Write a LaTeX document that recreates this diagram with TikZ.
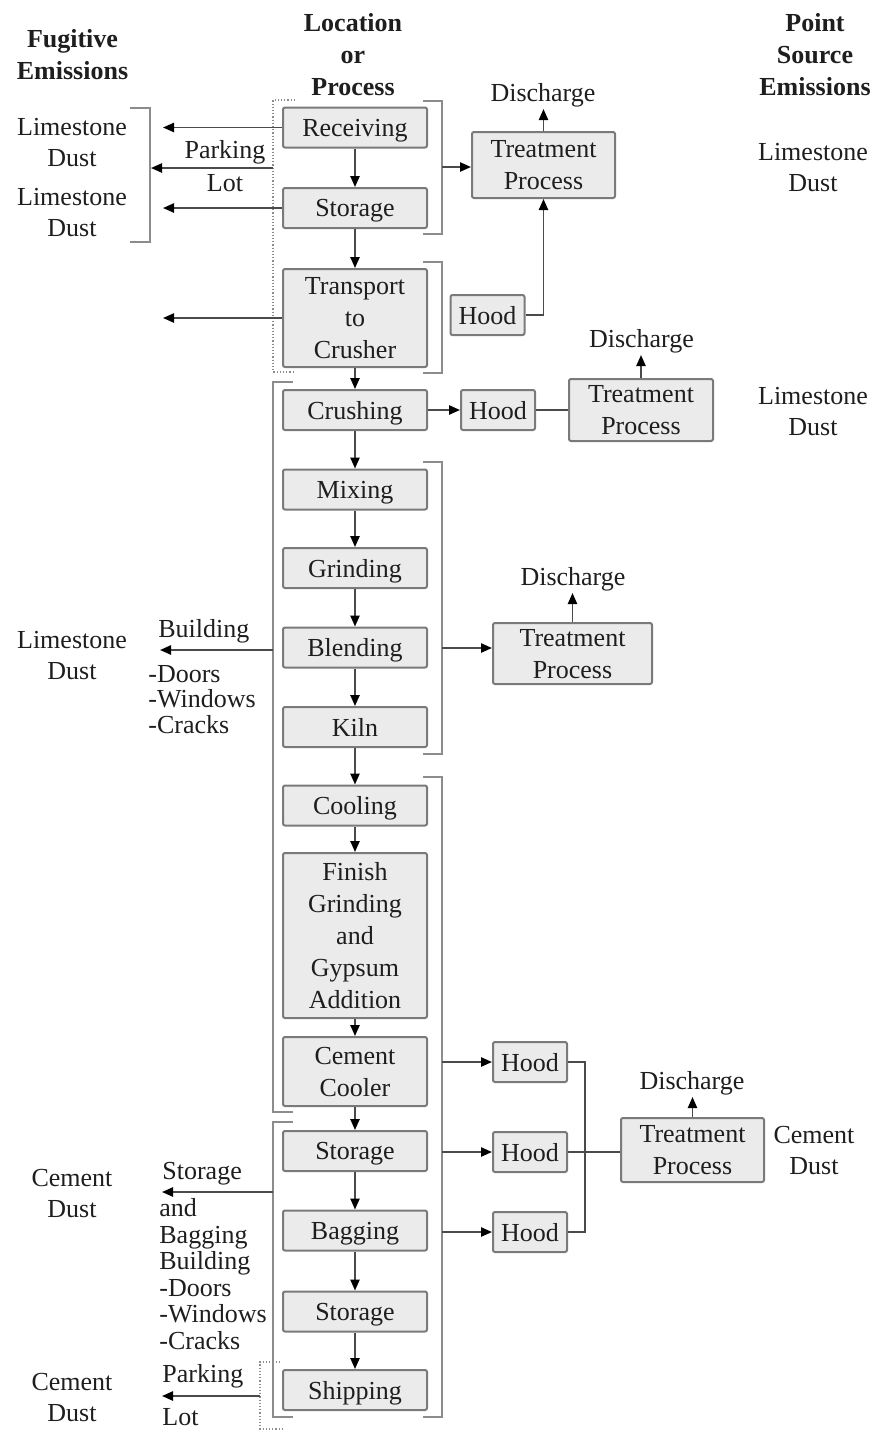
\documentclass[tikz,border=0pt]{standalone}
\usepackage{fontspec}
\setmainfont{Liberation Serif}
\usetikzlibrary{arrows.meta}
\definecolor{boxfill}{HTML}{EBEBEB}
\definecolor{boxline}{HTML}{7A7A7A}
\definecolor{wirecol}{HTML}{4A4A4A}
\definecolor{brk}{HTML}{8C8C8C}
\definecolor{ink}{HTML}{1E1E1E}

\begin{document}
\begin{tikzpicture}[x=0.5pt,y=-0.5pt,
  every node/.style={text=ink, font=\fontsize{13}{15.5}\selectfont},
  box/.style={draw=boxline, fill=boxfill, line width=1pt, rounded corners=1pt,
    inner sep=0pt, align=center, minimum height=20pt, text depth=0pt,
    font=\fontsize{13}{16}\selectfont},
  stepbox/.style={box, minimum width=72pt},
  hoodbox/.style={box, minimum width=37pt},
  lbl/.style={inner sep=0pt, align=center},
  head/.style={inner sep=0pt, align=center, font=\bfseries\fontsize{13}{16}\selectfont},
  arr/.style={draw=wirecol, line width=0.9pt, -{Triangle[length=5.5pt,width=4.6pt,color=black]}},
  wire/.style={draw=wirecol, line width=0.9pt},
  bracket/.style={draw=brk, line width=1.3pt},
  dotbracket/.style={draw=brk, line width=0.6pt, densely dotted},
]
\useasboundingbox (0,0) rectangle (876,1431);

% ---- column headings
\node[head] (hfug) at (72.5,54.5) {Fugitive\\Emissions};
\node[head] (hloc) at (353,55) {Location\\or\\Process};
\node[head] (hpnt) at (815,55) {Point\\Source\\Emissions};

% ---- process chain
\node[stepbox] (recv) at (355,127.5) {Receiving};
\node[stepbox] (st1) at (355,208) {Storage};
\node[stepbox, minimum height=49pt] (trans) at (355,318) {Transport\\to\\Crusher};
\node[stepbox] (crush) at (355,410) {Crushing};
\node[stepbox] (mix) at (355,489.5) {Mixing};
\node[stepbox] (grind) at (355,568) {Grinding};
\node[stepbox] (blend) at (355,647.5) {Blending};
\node[stepbox] (kiln) at (355,727) {Kiln};
\node[stepbox] (cool) at (355,805.5) {Cooling};
\node[stepbox, minimum height=82.5pt] (finish) at (355,935.5) {Finish\\Grinding\\and\\Gypsum\\Addition};
\node[stepbox, minimum height=34.5pt] (ccool) at (355,1071.5) {Cement\\Cooler};
\node[stepbox] (st2) at (355,1151) {Storage};
\node[stepbox] (bag) at (355,1230.5) {Bagging};
\node[stepbox] (st3) at (355,1311.5) {Storage};
\node[stepbox] (ship) at (355,1390) {Shipping};

\foreach \a/\b in {recv/st1, st1/trans, trans/crush, crush/mix, mix/grind,
  grind/blend, blend/kiln, kiln/cool, cool/finish, finish/ccool, ccool/st2,
  st2/bag, bag/st3, st3/ship}
  \draw[arr] (\a) -- (\b);

% ---- collection hoods and treatment
\node[box, minimum width=71.5pt, minimum height=33pt] (tp1) at (543.5,165) {Treatment\\Process};
\node[box, minimum width=72pt, minimum height=31pt] (tp2) at (641,410) {Treatment\\Process};
\node[box, minimum width=79.5pt, minimum height=30.5pt] (tp3) at (572.5,653.5) {Treatment\\Process};
\node[box, minimum width=71.5pt, minimum height=32pt] (tp4) at (692.5,1150) {Treatment\\Process};

\node[hoodbox] (h1) at (487.5,315) {Hood};
\node[hoodbox] (h2) at (498,410) {Hood};
\node[hoodbox] (h3) at (530,1062) {Hood};
\node[hoodbox] (h4) at (530,1152) {Hood};
\node[hoodbox] (h5) at (530,1232) {Hood};

\node[lbl, inner sep=1pt, anchor=base] (d1) at (543,101) {Discharge};
\node[lbl, inner sep=1pt, anchor=base] (d2) at (641.5,347) {Discharge};
\node[lbl, inner sep=1pt, anchor=base] (d3) at (573,585) {Discharge};
\node[lbl, inner sep=1pt, anchor=base] (d4) at (692,1089) {Discharge};

\draw[arr] (tp1.north) -- (tp1.north |- d1.south);
\draw[arr] (tp2.north) -- (tp2.north |- d2.south);
\draw[arr] (tp3.north) -- (tp3.north |- d3.south);
\draw[arr] (tp4.north) -- (tp4.north |- d4.south);

% ---- point source emissions
\node[lbl] (rd1) at (813,168) {Limestone\\Dust};
\node[lbl] (rd2) at (813,411.5) {Limestone\\Dust};
\node[lbl] (rd3) at (814,1151) {Cement\\Dust};

% ---- fugitive emissions
\node[lbl] (ld1) at (72,142.5) {Limestone\\Dust};
\node[lbl] (ld2) at (72,212.5) {Limestone\\Dust};
\node[lbl, font=\fontsize{13}{16.5}\selectfont] (park1) at (225,166.5) {Parking\\Lot};
\node[lbl] (ld3) at (72,656) {Limestone\\Dust};
\node[lbl, anchor=base west] (bld1) at (158,637) {Building};
\node[lbl, anchor=north west, align=left, font=\fontsize{13}{12.75}\selectfont] (open1) at (148,665) {-Doors\\-Windows\\-Cracks};
\node[lbl] (cd1) at (72,1194) {Cement\\Dust};
\node[lbl] (cd2) at (72,1397.5) {Cement\\Dust};
\node[lbl, anchor=base west] (sbt) at (162,1179) {Storage};
\node[lbl, anchor=north west, align=left, font=\fontsize{13}{13.3}\selectfont] (sbb) at (159,1198) {and\\Bagging\\Building\\-Doors\\-Windows\\-Cracks};
\node[lbl, anchor=north west, align=left, font=\fontsize{13}{21.5}\selectfont] (park2) at (162,1364) {Parking\\Lot};

% ---- grouping brackets
\draw[bracket] (130,108) -- (150,108) -- (150,242) -- (130,242);
\draw[dotbracket] (295,100) -- (273,100) -- (273,372) -- (295,372);
\draw[bracket] (423,101) -- (442,101) -- (442,234) -- (423,234);
\draw[bracket] (423,262) -- (442,262) -- (442,373) -- (423,373);
\draw[bracket] (293,382) -- (273,382) -- (273,1112) -- (293,1112);
\draw[bracket] (423,462) -- (442,462) -- (442,754) -- (423,754);
\draw[bracket] (423,777) -- (442,777) -- (442,1417) -- (423,1417);
\draw[bracket] (293,1122) -- (273,1122) -- (273,1417) -- (293,1417);
\draw[dotbracket] (280,1362) -- (260,1362) -- (260,1429) -- (282,1429);

% ---- fugitive release paths
\coordinate (e1) at (163,127.5);
\coordinate (e2) at (163,208);
\coordinate (e3) at (163,318);
\coordinate (pk1) at (273,168);
\coordinate (pk1e) at (151,168);
\coordinate (bl1) at (273,650);
\coordinate (bl1e) at (160,650);
\coordinate (bl2) at (273,1192);
\coordinate (bl2e) at (162,1192);
\coordinate (pk2) at (260,1396);
\coordinate (pk2e) at (162,1396);
\draw[arr] (recv.west) -- (e1);
\draw[arr] (st1.west) -- (e2);
\draw[arr] (trans.west) -- (e3);
\draw[arr] (pk1) -- (pk1e);
\draw[arr] (bl1) -- (bl1e);
\draw[arr] (bl2) -- (bl2e);
\draw[arr] (pk2) -- (pk2e);

% ---- ducting to treatment
\coordinate (rb1) at (442,167);
\coordinate (rb3) at (442,648);
\coordinate (rb4a) at (442,1062);
\coordinate (rb4b) at (442,1152);
\coordinate (rb4c) at (442,1232);
\coordinate (jn) at (585,1152);
\draw[arr] (rb1) -- (rb1 -| tp1.west);
\draw[arr] (h1.east) -| (tp1.south);
\draw[arr] (crush.east) -- (h2.west);
\draw[wire] (h2.east) -- (tp2.west);
\draw[arr] (rb3) -- (rb3 -| tp3.west);
\draw[arr] (rb4a) -- (h3.west);
\draw[arr] (rb4b) -- (h4.west);
\draw[arr] (rb4c) -- (h5.west);
\draw[wire] (h3.east) -| (jn) |- (h5.east);
\draw[wire] (h4.east) -- (h4.east -| tp4.west);

\end{tikzpicture}
\end{document}
